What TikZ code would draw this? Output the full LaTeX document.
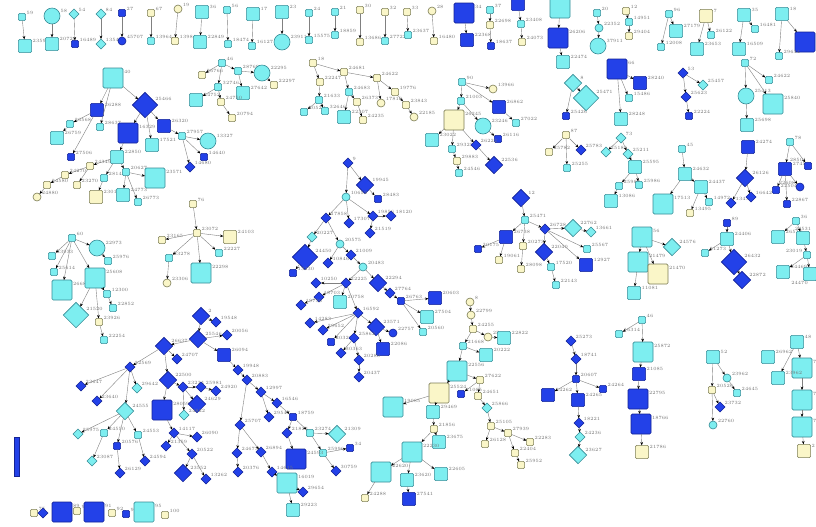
\documentclass[tikz,border=0pt]{standalone}
\usetikzlibrary{shapes.geometric,arrows.meta}
\definecolor{cyfill}{RGB}{125,238,240}
\definecolor{cyline}{RGB}{55,140,150}
\definecolor{bufill}{RGB}{35,65,232}
\definecolor{buline}{RGB}{20,35,150}
\definecolor{ylfill}{RGB}{250,246,200}
\definecolor{ylline}{RGB}{125,125,85}
\tikzset{
 nbase/.style={inner sep=0pt,outer sep=0pt,line width=0.45pt},
 sqr/.style={nbase,rectangle,rounded corners=1pt,minimum size=#1},
 crc/.style={nbase,circle,minimum size=#1},
 dmd/.style={nbase,diamond,aspect=1,minimum size=#1},
 cyf/.style={fill=cyfill,draw=cyline},
 buf/.style={fill=bufill,draw=buline},
 ylf/.style={fill=ylfill,draw=ylline},
 cyS/.style={cyf,sqr=5.5pt}, cyM/.style={cyf,sqr=10pt}, cyL/.style={cyf,sqr=15pt},
 buS/.style={buf,sqr=5.5pt}, buM/.style={buf,sqr=10pt}, buL/.style={buf,sqr=15pt},
 ylS/.style={ylf,sqr=5.5pt}, ylM/.style={ylf,sqr=10pt}, ylL/.style={ylf,sqr=15pt},
 cyc/.style={cyf,crc=6pt}, cyC/.style={cyf,crc=12pt}, buc/.style={buf,crc=6pt}, ylc/.style={ylf,crc=6pt},
 cyd/.style={cyf,dmd=7.5pt}, cyD/.style={cyf,dmd=13pt}, cyDD/.style={cyf,dmd=19pt},
 bud/.style={buf,dmd=7.5pt}, buD/.style={buf,dmd=13pt}, buDD/.style={buf,dmd=19pt},
 lab/.style={font=\fontsize{3.6}{4}\selectfont,text=black!55,inner sep=0.6pt},
 edge/.style={draw=black!50,line width=0.3pt,-{Stealth[length=2.5pt,width=2pt,color=black]}}
}
\newcommand\nd[5]{\node[#2,label={[lab]20:#5}] (#1) at (#3,#4) {};}
\newcommand\ndl[5]{\node[#2,label={[lab]160:#5}] (#1) at (#3,#4) {};}
\newcommand\ed[1]{\foreach \ea/\eb in {#1} {\draw[edge] (\ea) -- (\eb);}}
\begin{document}
\begin{tikzpicture}[x=0.75pt,y=-0.75pt]
\useasboundingbox (0,0) rectangle (816,526);
\clip (0,0) rectangle (816,526);
\fill[white] (0,0) rectangle (816,526);
% ---------- top row pairs ----------
\nd{t1a}{cyS}{22}{17}{59}\nd{t1b}{cyM}{25}{46}{23593}
\nd{t2a}{cyC}{52}{16}{58}\nd{t2b}{cyM}{52}{44}{20728}
\nd{t3a}{cyd}{74}{14}{54}\nd{t3b}{buS}{75}{44}{16489}
\nd{t4a}{cyd}{101}{14}{84}\nd{t4b}{cyd}{101}{44}{13540}
\nd{t5a}{buS}{122}{13}{27}\nd{t5b}{buc}{122}{41}{45707}
\nd{t6a}{ylS}{151}{13}{67}\nd{t6b}{cyS}{151}{41}{13964}
\nd{t7a}{ylc}{178}{9}{19}\nd{t7b}{ylS}{175}{41}{13984}
\nd{t8a}{cyM}{202}{12}{36}\nd{t8b}{cyM}{200}{42}{22849}
\nd{t9a}{cyS}{227}{10}{56}\nd{t9b}{cyS}{228}{44}{18474}
\nd{t10a}{cyM}{253}{14}{17}\nd{t10b}{cyS}{252}{46}{16127}
\nd{t11a}{cyM}{282}{12}{23}\nd{t11b}{cyC}{282}{42}{23911}
\nd{t12a}{cyS}{309}{13}{24}\nd{t12b}{cyS}{309}{40}{15575}
\nd{t13a}{cyS}{335}{12}{21}\nd{t13b}{cyS}{335}{35}{18859}
\nd{t14a}{ylS}{360}{10}{30}\nd{t14b}{ylS}{360}{42}{13686}
\nd{t15a}{ylS}{385}{12}{32}\nd{t15b}{cyS}{385}{41}{27722}
\nd{t16a}{ylS}{407}{12}{33}\nd{t16b}{cyS}{408}{35}{23637}
\nd{t17a}{ylc}{432}{11}{28}\nd{t17b}{ylS}{434}{41}{16480}
\nd{t18a}{buL}{464}{13}{34}\nd{t18b}{buM}{467}{40}{22368}
\nd{t19a}{cyS}{490}{10}{37}\nd{t19b}{ylS}{490}{25}{22698}\nd{t19c}{buS}{491}{46}{18637}
\nd{t20a}{buM}{518}{4}{}\nd{t20b}{cyS}{521}{24}{23408}\nd{t20c}{ylS}{522}{42}{24073}
\nd{t21a}{cyL}{560}{8}{}\nd{t21b}{buL}{558}{38}{26206}\nd{t21c}{cyM}{563}{62}{22474}
\nd{t22a}{cyS}{597}{13}{20}\nd{t22b}{cyc}{599}{28}{22352}\nd{t22c}{cyC}{598}{46}{37911}
\nd{t23a}{ylS}{626}{11}{12}\nd{t23b}{cyS}{629}{22}{14951}\nd{t23c}{ylS}{629}{36}{29404}
\nd{t24a}{cyS}{669}{14}{96}\nd{t24b}{cyM}{676}{31}{27179}\nd{t24c}{cyS}{661}{47}{12008}
\nd{t25a}{ylM}{706}{16}{7}\nd{t25b}{cyS}{711}{35}{26122}\nd{t25c}{cyM}{697}{49}{23653}
\nd{t26a}{cyM}{744}{15}{35}\nd{t26b}{cyS}{755}{29}{16481}\nd{t26c}{cyM}{739}{49}{16509}
\nd{t27a}{cyM}{782}{14}{18}\nd{t27b}{buL}{805}{42}{}\nd{t27c}{cyS}{779}{56}{29644}
\ed{t1a/t1b,t2a/t2b,t3a/t3b,t4a/t4b,t5a/t5b,t6a/t6b,t7a/t7b,t8a/t8b,t9a/t9b,t10a/t10b,
t11a/t11b,t12a/t12b,t13a/t13b,t14a/t14b,t15a/t15b,t16a/t16b,t17a/t17b,t18a/t18b,
t19a/t19b,t19b/t19c,t20a/t20b,t20b/t20c,t21a/t21b,t21b/t21c,t22a/t22b,t22b/t22c,
t23a/t23b,t23b/t23c,t24a/t24b,t24a/t24c,t25a/t25b,t25a/t25c,t26a/t26b,t26a/t26c,t27a/t27b,t27a/t27c}
% ---------- tree A ----------
\nd{a1}{cyL}{113}{78}{40}\nd{a2}{buDD}{145}{105}{25466}\nd{a3}{buM}{97}{110}{26288}
\nd{a4}{cyS}{70}{124}{26568}\nd{a5}{cyM}{57}{138}{26759}\nd{a6}{cyS}{100}{127}{28637}
\nd{a7}{buS}{71}{157}{27506}\nd{a8}{buL}{128}{133}{16329}\nd{a9}{cyM}{152}{145}{17521}
\nd{a10}{buM}{164}{126}{26320}\nd{a11}{cyS}{182}{136}{27957}\nd{a12}{cyC}{208}{141}{13327}
\nd{a13}{buS}{204}{157}{14640}\nd{a14}{bud}{190}{167}{14680}\nd{a15}{cyM}{117}{157}{22850}
\nd{a16}{ylS}{90}{166}{24349}\nd{a17}{cyS}{104}{178}{28148}\nd{a18}{cyS}{126}{172}{20627}
\nd{a19}{cyL}{155}{178}{23571}\nd{a20}{ylS}{65}{175}{24270}\nd{a21}{ylS}{77}{185}{23270}
\nd{a22}{ylS}{47}{185}{24580}\nd{a23}{ylc}{37}{197}{24880}\nd{a24}{ylM}{96}{197}{23014}
\nd{a25}{cyM}{123}{195}{24773}\nd{a26}{cyS}{138}{202}{26773}
\ed{a1/a2,a1/a3,a1/a6,a3/a4,a4/a5,a3/a7,a2/a8,a2/a9,a2/a10,a10/a11,a11/a12,a11/a13,a11/a14,
a8/a15,a15/a16,a15/a17,a15/a18,a18/a19,a18/a25,a18/a26,a16/a20,a20/a22,a22/a23,a16/a21,a17/a24}
% ---------- tree C ----------
\nd{c1}{cyS}{222}{63}{46}\nd{c2}{ylS}{202}{75}{26766}\nd{c3}{cyS}{238}{71}{28769}
\nd{c4}{cyC}{262}{73}{22295}\nd{c5}{ylS}{274}{85}{22297}\nd{c6}{cyM}{243}{93}{27642}
\nd{c7}{cyS}{218}{87}{32746}\nd{c8}{cyM}{196}{100}{24752}\nd{c9}{ylS}{221}{102}{24750}
\nd{c10}{ylS}{232}{118}{20794}
\ed{c1/c2,c1/c3,c1/c7,c3/c4,c3/c6,c4/c5,c7/c8,c7/c9,c9/c10}
% ---------- tree D ----------
\nd{d1}{ylS}{313}{63}{18}\nd{d2}{ylS}{344}{72}{24681}\nd{d3}{ylS}{320}{82}{22247}
\nd{d4}{cyS}{319}{100}{21633}\nd{d5}{cyS}{304}{112}{20520}\nd{d6}{cyS}{325}{111}{32646}
\nd{d7}{cyS}{349}{92}{24683}\nd{d8}{ylS}{357}{102}{26373}\nd{d9}{cyM}{344}{117}{22307}
\nd{d10}{ylS}{363}{120}{24235}\nd{d11}{ylS}{377}{78}{24622}\nd{d12}{ylS}{395}{92}{19776}
\nd{d13}{ylc}{381}{103}{17816}\nd{d14}{ylS}{406}{105}{23843}\nd{d15}{ylc}{414}{117}{22185}
\ed{d1/d2,d1/d3,d3/d4,d4/d5,d4/d6,d2/d7,d2/d11,d7/d8,d7/d9,d8/d10,d11/d12,d11/d13,d12/d14,d14/d15}
% ---------- tree E ----------
\nd{e1}{cyS}{462}{82}{90}\nd{e2}{ylc}{493}{89}{13966}\nd{e3}{cyS}{461}{101}{21003}
\nd{e4}{buM}{499}{107}{26862}\nd{e5}{cyS}{516}{123}{27022}\nd{e6}{ylL}{454}{120}{26245}
\nd{e7}{cyC}{483}{126}{23246}\nd{e8}{buS}{498}{139}{26116}\nd{e9}{cyM}{432}{140}{23022}
\nd{e10}{cyS}{452}{149}{29325}\nd{e11}{bud}{476}{145}{26222}\nd{e12}{ylS}{457}{161}{29883}
\nd{e13}{cyS}{459}{173}{24546}\nd{e14}{buD}{494}{165}{22536}
\ed{e1/e2,e1/e3,e1/e4,e4/e5,e3/e6,e3/e7,e7/e8,e6/e9,e6/e10,e6/e11,e11/e14,e10/e12,e12/e13}
% ---------- trees F G H I ----------
\nd{f1}{cyD}{573}{83}{8}\nd{f2}{cyDD}{586}{98}{25471}\nd{f3}{buS}{566}{116}{25426}
\ed{f1/f2,f1/f3}
\nd{g1}{buL}{617}{69}{66}\nd{g2}{buM}{640}{83}{28240}\nd{g3}{cyS}{629}{98}{15486}\nd{g4}{cyM}{621}{119}{28248}
\ed{g1/g2,g1/g3,g1/g4}
\nd{h1}{bud}{683}{73}{53}\nd{h2}{cyd}{703}{85}{25457}\nd{h3}{bud}{686}{97}{25623}\nd{h4}{buS}{689}{116}{22224}
\ed{h1/h2,h1/h3,h3/h4}
\nd{i1}{cyS}{745}{63}{72}\nd{i2}{cyS}{769}{80}{24622}\nd{i3}{cyC}{746}{96}{25413}
\nd{i4}{cyL}{773}{104}{25840}\nd{i5}{cyM}{747}{125}{25698}
\ed{i1/i2,i1/i3,i1/i4,i3/i5}
% ---------- trees J K L M N ----------
\nd{j1}{ylS}{566}{135}{87}\nd{j2}{ylS}{549}{152}{25782}\nd{j3}{bud}{581}{150}{25783}\nd{j4}{cyS}{567}{168}{25255}
\ed{j1/j2,j1/j3,j1/j4}
\nd{k1}{cyd}{621}{138}{73}\nd{k2}{cyd}{606}{152}{25184}\nd{k3}{cyd}{628}{154}{25211}
\nd{k4}{cyM}{635}{167}{25595}\nd{k5}{cyS}{619}{186}{25989}\nd{k6}{cyM}{611}{201}{13086}\nd{k7}{cyS}{639}{185}{25986}
\ed{k1/k2,k1/k3,k3/k4,k4/k5,k5/k6,k4/k7}
\nd{l1}{cyS}{682}{149}{45}\nd{l2}{cyM}{685}{174}{24632}\nd{l3}{cyL}{663}{204}{17513}
\nd{l4}{cyM}{701}{187}{24437}\nd{l5}{cyS}{709}{202}{14972}\nd{l6}{ylS}{690}{213}{13495}
\ed{l1/l2,l2/l3,l2/l4,l4/l5,l4/l6}
\nd{m1}{buM}{748}{147}{24274}\nd{m2}{buD}{745}{178}{26126}\nd{m3}{bud}{731}{203}{13472}\nd{m4}{bud}{751}{197}{16642}
\ed{m1/m2,m2/m3,m2/m4}
\nd{n1}{cyS}{790}{142}{78}\nd{n2}{buM}{785}{169}{27456}
\node[buS,label={[lab,anchor=south east]100:28501}] (n3) at (808,166) {};
\nd{n4}{buS}{776}{190}{22504}\ndl{n5}{buc}{800}{187}{22608}\nd{n6}{buS}{787}{204}{22867}
\ed{n1/n2,n1/n3,n2/n4,n2/n5,n2/n6}
% ---------- tree P ----------
\nd{p1}{buD}{521}{198}{12}\nd{p2}{cyS}{525}{220}{25471}\nd{p3}{buM}{506}{237}{26738}
\nd{p4}{buS}{478}{249}{30175}\nd{p5}{ylS}{499}{260}{19061}\nd{p6}{ylS}{523}{246}{20273}
\nd{p7}{ylS}{521}{269}{28098}\nd{p8}{bud}{545}{229}{26728}\nd{p9}{cyD}{573}{228}{22762}
\nd{p10}{cyd}{591}{232}{13661}\nd{p11}{buD}{544}{252}{22040}\nd{p12}{cyS}{551}{267}{17520}
\nd{p13}{cyS}{556}{285}{22143}\nd{p14}{cyS}{587}{249}{25567}\nd{p15}{buM}{586}{265}{12927}
\ed{p1/p2,p2/p3,p3/p4,p3/p5,p2/p6,p6/p7,p2/p8,p8/p9,p9/p10,p8/p11,p11/p12,p12/p13,p8/p14,p8/p15}
% ---------- trees Q R S ----------
\nd{q1}{cyL}{642}{237}{56}\nd{q2}{cyD}{672}{247}{24576}\nd{q3}{cyL}{638}{262}{21479}
\nd{q4}{ylL}{658}{274}{21470}\nd{q5}{cyM}{634}{293}{11081}
\ed{q1/q2,q1/q3,q1/q4,q3/q5}
\nd{r1}{buS}{727}{223}{89}\nd{r2}{cyM}{727}{239}{24406}\nd{r3}{cyS}{705}{253}{21273}
\nd{r4}{buDD}{734}{262}{26432}\nd{r5}{buD}{742}{280}{22872}
\ed{r1/r2,r2/r3,r2/r4,r4/r5}
\nd{s1}{cyS}{796}{221}{36}\nd{s2}{cyM}{778}{237}{26516}
\node[cyM,label={[lab,anchor=south]90:24531}] (s3) at (803,238) {};
\ndl{s4}{cyS}{807}{255}{23019}\nd{s5}{cyM}{783}{272}{24469}
\node[cyM,label={[lab,anchor=north east]-100:24470}] (s6) at (810,274) {};
\ed{s1/s2,s1/s3,s3/s4,s4/s5,s4/s6}
% ---------- tree B ----------
\nd{b1}{ylS}{193}{204}{76}\nd{b2}{ylS}{197}{233}{23072}\nd{b3}{ylS}{162}{240}{23165}
\nd{b4}{ylM}{230}{237}{24103}\nd{b5}{cyS}{219}{253}{22227}\nd{b6}{cyS}{169}{258}{23278}
\nd{b7}{cyL}{201}{273}{22298}\nd{b8}{ylc}{167}{283}{23306}
\ed{b1/b2,b2/b3,b2/b4,b2/b5,b2/b6,b2/b7,b6/b8}
% ---------- tree V ----------
\nd{v1}{cyS}{72}{238}{60}\nd{v2}{cyS}{52}{256}{23933}\nd{v3}{cyC}{97}{248}{22973}
\nd{v4}{cyS}{108}{261}{25976}\nd{v5}{cyS}{54}{272}{25614}\nd{v6}{cyL}{62}{290}{26684}
\nd{v7}{cyL}{95}{278}{25608}\nd{v8}{cyS}{107}{294}{12300}\nd{v9}{cyS}{113}{308}{22852}
\nd{v10}{cyDD}{76}{315}{21520}\nd{v11}{ylS}{99}{322}{23926}\nd{v12}{cyS}{104}{340}{22254}
\ed{v1/v2,v1/v3,v1/v5,v1/v6,v1/v7,v3/v4,v7/v8,v8/v9,v7/v10,v7/v11,v11/v12}
% ---------- tree T ----------
\nd{x1}{bud}{348}{163}{9}\nd{x2}{buD}{365}{185}{19945}\nd{x3}{buS}{378}{199}{28483}
\nd{x4}{cyc}{346}{197}{10652}\nd{x5}{bud}{326}{218}{17858}\nd{x6}{bud}{349}{223}{17307}
\nd{x7}{bud}{373}{216}{19856}\nd{x8}{bud}{391}{216}{18120}\nd{x9}{bud}{370}{233}{21519}
\nd{x10}{cyd}{312}{237}{20227}\nd{x11}{cyc}{340}{244}{20575}\nd{x12}{buDD}{305}{257}{24450}
\nd{x13}{buS}{293}{273}{13230}\nd{x14}{bud}{328}{263}{10846}\nd{x15}{bud}{351}{255}{21009}
\nd{x16}{cyc}{363}{267}{20483}\nd{x17}{buD}{378}{283}{22294}\nd{x18}{bud}{390}{293}{27764}
\nd{x19}{buS}{401}{301}{26763}\nd{x20}{buM}{435}{298}{20603}\nd{x21}{cyM}{427}{317}{27504}
\nd{x22}{cyS}{423}{332}{20560}\nd{x23}{bud}{346}{283}{22225}\nd{x24}{bud}{316}{283}{10250}
\nd{x25}{bud}{319}{297}{18703}\nd{x26}{bud}{301}{305}{19736}\nd{x27}{cyM}{340}{302}{20758}
\nd{x28}{bud}{358}{313}{16592}\nd{x29}{bud}{310}{323}{14283}\nd{x30}{bud}{323}{330}{29652}
\nd{x31}{buS}{331}{342}{20322}\nd{x32}{buD}{376}{327}{23571}\nd{x33}{buc}{393}{333}{22757}
\nd{x34}{buM}{383}{349}{22086}\nd{x35}{bud}{354}{338}{25862}\nd{x36}{bud}{341}{353}{30363}
\nd{x37}{bud}{359}{360}{20280}\nd{x38}{bud}{359}{377}{20437}
\ed{x1/x2,x1/x4,x2/x3,x4/x5,x4/x6,x4/x7,x7/x8,x7/x9,x5/x10,x10/x12,x12/x13,x5/x11,x11/x14,
x11/x15,x15/x16,x16/x17,x16/x23,x17/x18,x18/x19,x19/x20,x19/x21,x19/x22,x23/x24,x23/x25,
x23/x27,x23/x28,x25/x26,x28/x29,x28/x30,x28/x31,x28/x32,x28/x35,x32/x33,x32/x34,x35/x36,x35/x37,x37/x38}
% ---------- tree W ----------
\nd{w1}{buD}{201}{316}{2}\nd{w2}{bud}{216}{322}{19548}\nd{w3}{buD}{198}{339}{25546}
\nd{w4}{bud}{227}{335}{20056}\nd{w5}{buD}{164}{346}{26637}\nd{w6}{buM}{224}{355}{26094}
\nd{w7}{bud}{177}{359}{24707}\nd{w8}{bud}{130}{367}{22569}\nd{w9}{bud}{238}{370}{19948}
\nd{w10}{bud}{247}{380}{20883}\nd{w11}{buD}{168}{380}{22500}\nd{w12}{bud}{183}{387}{23234}
\nd{w13}{bud}{201}{387}{25981}\nd{w14}{bud}{216}{391}{24920}\nd{w15}{bud}{261}{392}{12997}
\nd{w16}{bud}{277}{403}{16546}\nd{w17}{bud}{81}{386}{23647}\nd{w18}{cyd}{137}{388}{29642}
\nd{w19}{bud}{97}{401}{23640}\nd{w20}{cyD}{125}{411}{24555}\nd{w21}{buL}{162}{410}{28059}
\nd{w22}{buD}{197}{404}{24629}\nd{w23}{cyd}{184}{415}{24822}\nd{w24}{bud}{269}{417}{29547}
\nd{w25}{buS}{293}{417}{18759}\nd{w26}{bud}{240}{425}{25707}\nd{w27}{bud}{287}{433}{21824}
\nd{w28}{cyS}{310}{433}{23274}\nd{w29}{cyD}{337}{434}{21309}\nd{w30}{bud}{174}{433}{14117}
\nd{w31}{bud}{197}{437}{26090}\nd{w32}{cyd}{78}{434}{25975}\nd{w33}{cyS}{104}{433}{24550}
\nd{w34}{cyS}{138}{435}{24553}\nd{w35}{bud}{166}{446}{21359}\nd{w36}{buS}{117}{446}{20576}
\nd{w37}{bud}{192}{454}{20522}\nd{w38}{bud}{237}{453}{24673}\nd{w39}{bud}{261}{452}{26894}
\nd{w40}{cyS}{323}{453}{25996}\nd{w41}{buS}{350}{448}{34}\nd{w42}{buL}{296}{459}{24593}
\nd{w43}{cyd}{92}{461}{23087}\nd{w44}{bud}{145}{461}{24594}\nd{w45}{bud}{120}{473}{26129}
\nd{w46}{buD}{183}{473}{23552}\nd{w47}{bud}{206}{479}{13262}\nd{w48}{bud}{238}{472}{20376}
\nd{w49}{bud}{272}{472}{14615}\nd{w50}{bud}{336}{471}{30759}\nd{w51}{cyL}{287}{483}{16019}
\nd{w52}{bud}{303}{492}{29654}\nd{w53}{cyM}{293}{510}{29223}
\ed{w1/w2,w1/w3,w3/w4,w3/w5,w3/w6,w5/w7,w5/w8,w5/w11,w8/w17,w8/w18,w8/w19,w8/w20,w20/w32,
w20/w33,w20/w36,w20/w34,w33/w43,w36/w45,w34/w44,w11/w21,w11/w12,w12/w13,w13/w14,w12/w22,
w12/w23,w21/w30,w30/w31,w30/w35,w30/w37,w37/w46,w37/w47,w6/w9,w9/w10,w10/w15,w15/w16,w15/w24,
w16/w25,w25/w27,w27/w42,w25/w28,w28/w29,w28/w40,w40/w41,w40/w50,w10/w26,w26/w38,w38/w48,
w26/w39,w39/w49,w49/w51,w51/w52,w51/w53}
% ---------- bottom row ----------
\node[buf,nbase,rectangle,minimum width=3.75pt,minimum height=29pt] (z0) at (16.5,456.5) {};
\nd{z1}{ylS}{34}{513}{75}\nd{z2}{bud}{43}{513}{}\nd{z3}{buL}{62}{512}{89}
\nd{z4}{ylS}{77}{511}{90}\nd{z5}{buL}{94}{512}{91}\nd{z6}{ylS}{112}{513}{92}
\nd{z7}{buS}{126}{514}{94}\nd{z8}{cyL}{144}{512}{95}\nd{z9}{ylS}{165}{515}{100}
% ---------- tree U ----------
\nd{u1}{ylc}{470}{302}{8}\nd{u2}{ylc}{471}{315}{22799}\nd{u3}{ylS}{473}{329}{24255}
\nd{u4}{ylc}{488}{337}{25}\nd{u5}{cyM}{504}{338}{22822}\nd{u6}{cyS}{463}{346}{21668}
\nd{u7}{cyM}{486}{355}{20222}\nd{u8}{cyL}{457}{371}{22556}\nd{u9}{ylS}{480}{380}{27622}
\nd{u10}{buS}{461}{394}{21005}\nd{u11}{ylS}{478}{396}{24651}\nd{u12}{ylL}{439}{393}{25524}
\nd{u13}{cyL}{393}{407}{19085}\nd{u14}{cyM}{433}{412}{29469}\nd{u15}{cyd}{487}{408}{25866}
\nd{u16}{ylS}{491}{426}{25105}\nd{u17}{ylS}{434}{429}{21856}\nd{u18}{cyM}{439}{442}{23675}
\nd{u19}{ylS}{508}{433}{27939}\nd{u20}{ylS}{485}{444}{26128}\nd{u21}{ylS}{530}{442}{22283}
\nd{u22}{cyL}{412}{452}{22230}\nd{u23}{ylS}{515}{453}{22404}\nd{u24}{cyL}{381}{472}{22620}
\nd{u25}{cyM}{407}{480}{23620}\nd{u26}{cyM}{441}{474}{22605}\nd{u27}{ylS}{521}{465}{25952}
\nd{u28}{ylS}{365}{498}{24288}\nd{u29}{buM}{409}{499}{27541}
\ed{u1/u2,u2/u3,u3/u4,u4/u5,u3/u6,u6/u7,u6/u8,u8/u9,u9/u10,u9/u11,u11/u15,u15/u16,u16/u20,
u16/u19,u19/u21,u19/u23,u23/u27,u8/u12,u12/u13,u12/u14,u14/u17,u17/u18,u17/u22,u22/u24,
u24/u28,u22/u25,u25/u29,u22/u26}
% ---------- tree X ----------
\nd{y1}{bud}{571}{341}{25273}\nd{y2}{bud}{576}{359}{18741}\nd{y3}{buS}{576}{379}{20607}
\nd{y4}{buM}{548}{395}{24262}\nd{y5}{buS}{603}{389}{24264}\nd{y6}{buM}{578}{400}{24265}
\nd{y7}{bud}{579}{423}{18221}\nd{y8}{cyd}{580}{437}{24236}\nd{y9}{cyD}{578}{455}{23627}
\ed{y1/y2,y2/y3,y3/y4,y3/y5,y3/y6,y6/y7,y7/y8,y8/y9}
% ---------- trees Y Z AA ----------
\nd{ya1}{cyS}{642}{320}{46}\nd{ya2}{cyS}{619}{334}{16314}\nd{ya3}{cyL}{643}{352}{25872}
\nd{ya4}{buM}{639}{374}{21085}\nd{ya5}{buL}{638}{399}{22795}\nd{ya6}{buL}{641}{424}{18766}
\nd{ya7}{ylM}{642}{452}{21786}
\ed{ya1/ya2,ya1/ya3,ya3/ya4,ya4/ya5,ya5/ya6,ya6/ya7}
\nd{za1}{cyM}{713}{357}{52}\nd{za2}{cyc}{727}{378}{23962}\nd{za3}{cyS}{737}{393}{24645}
\nd{za4}{ylS}{712}{390}{20526}\nd{za5}{bud}{720}{407}{23732}\nd{za6}{cyc}{713}{425}{22760}
\ed{za1/za2,za2/za3,za1/za4,za4/za5,za4/za6}
\nd{aa1}{cyM}{797}{342}{48}\nd{aa2}{cyM}{768}{357}{26962}\nd{aa3}{cyL}{802}{368}{7}
\nd{aa4}{cyM}{778}{378}{23962}\nd{aa5}{cyL}{802}{400}{7}\nd{aa6}{cyL}{802}{427}{7}
\nd{aa7}{ylM}{804}{451}{2}
\ed{aa1/aa4,aa1/aa3,aa3/aa5,aa5/aa6,aa6/aa7}
\end{tikzpicture}
\end{document}
